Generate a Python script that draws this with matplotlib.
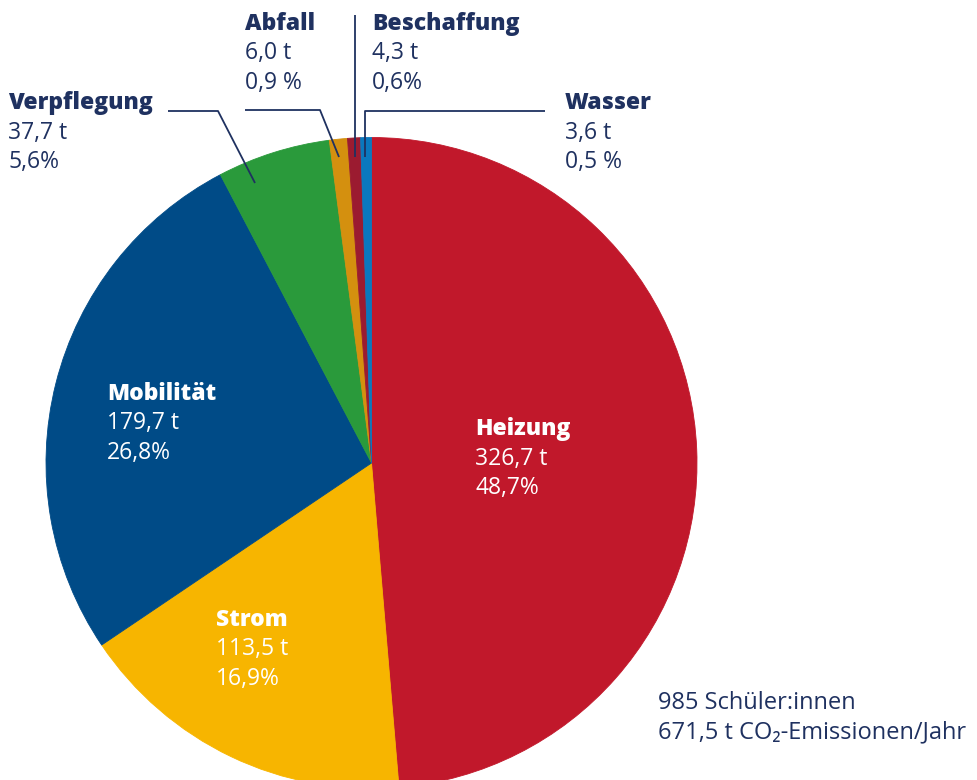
import matplotlib
matplotlib.use("Agg")
import matplotlib.pyplot as plt

categories = ["Heizung", "Strom", "Mobilität", "Verpflegung", "Abfall", "Beschaffung", "Wasser"]
tonnes = [326.7, 113.5, 179.7, 37.7, 6.0, 4.3, 3.6]
tonnes_labels = ["326,7 t", "113,5 t", "179,7 t", "37,7 t", "6,0 t", "4,3 t", "3,6 t"]
percent_labels = ["48,7%", "16,9%", "26,8%", "5,6%", "0,9 %", "0,6%", "0,5 %"]
colors = ["#C1182B", "#F7B500", "#004B87", "#2A9A3B", "#D4900F", "#9B1B30", "#0A78BE"]
footer = ["985 Schüler:innen", "671,5 t CO₂-Emissionen/Jahr"]

NAVY = "#1F3160"
W, H = 977, 780
fig = plt.figure(figsize=(W / 100, H / 100), dpi=100)
ax = fig.add_axes([0, 0, 1, 1])

def Y(y):
    return H - y

cx, cy, r = 371.5, Y(463), 325.5
wedges, _ = ax.pie(tonnes, colors=colors, startangle=90, counterclock=False,
                   center=(cx, cy), radius=r, frame=True,
                   wedgeprops=dict(linewidth=0.6, antialiased=True))
for w, c in zip(wedges, colors):
    w.set_edgecolor(c)
ax.set_xlim(0, W)
ax.set_ylim(0, H)
ax.set_aspect("equal")
ax.axis("off")

FAM = ["Open Sans", "DejaVu Sans"]
FS = 16.5
LS = 29.5
DY = 2

label_pos = {
    "Heizung": (475, 427, "white"),
    "Strom": (216, 618, "white"),
    "Mobilität": (107, 392, "white"),
    "Verpflegung": (8, 101, NAVY),
    "Abfall": (245, 22, NAVY),
    "Beschaffung": (372, 22, NAVY),
    "Wasser": (565, 101, NAVY),
}
for i, cat in enumerate(categories):
    x, y, col = label_pos[cat]
    y += DY
    ax.text(x, Y(y), cat, fontsize=FS, fontweight="heavy", color=col,
            family=FAM, ha="left", va="center")
    ax.text(x, Y(y + LS), tonnes_labels[i], fontsize=FS, color=col,
            family=FAM, ha="left", va="center")
    ax.text(x, Y(y + 2 * LS), percent_labels[i], fontsize=FS, color=col,
            family=FAM, ha="left", va="center")

for j, line in enumerate(footer):
    ax.text(658, Y(701 + DY + j * LS), line, fontsize=17, color=NAVY,
            family=FAM, ha="left", va="center")

lines = [
    [(168, 111), (218, 111), (255, 183)],
    [(245, 110), (320, 110), (339, 157)],
    [(355, 15), (355, 157)],
    [(365, 157), (365, 111), (545, 111)],
]
for pts in lines:
    xs = [p[0] for p in pts]
    ys = [Y(p[1]) for p in pts]
    ax.plot(xs, ys, color=NAVY, linewidth=1.3, solid_capstyle="butt")

fig.savefig("out.png", dpi=100)
